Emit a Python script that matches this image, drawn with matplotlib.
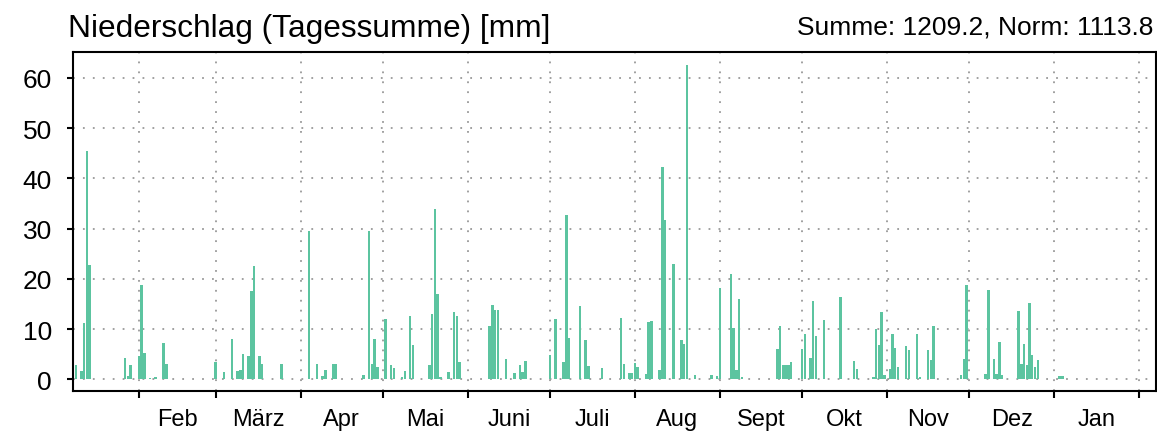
import matplotlib
matplotlib.use("Agg")
from matplotlib import pyplot as plt

# Tagesniederschlag: Tag (0 = 1. Jan) und Menge in mm
tage = [8, 10, 11, 12, 13, 26, 27, 28, 31, 32, 33, 35, 37, 40, 41,
        59, 62, 65, 67, 68, 69, 71, 72, 73, 75, 76, 83,
        93, 96, 98, 99, 102, 103, 113, 115, 116, 117, 118,
        121, 123, 124, 127, 128, 130, 131, 137, 138, 139, 140, 141, 144, 146, 147, 148,
        159, 160, 161, 162, 165, 168, 170, 171, 172,
        181, 183, 186, 187, 188, 192, 194, 195, 200, 207, 208, 210, 211,
        212, 213, 216, 217, 218, 221, 222, 223, 226, 229, 230, 231, 234, 240, 242,
        243, 247, 248, 249, 250, 251, 264, 265, 266, 267, 268, 269,
        273, 274, 276, 277, 278, 281, 287, 292, 293, 299, 300, 301, 302, 303,
        305, 306, 307, 308, 311, 312, 315, 316, 319, 320, 321, 331, 332, 333,
        340, 341, 343, 344, 345, 346, 352, 353, 354, 355, 356, 357, 358, 359,
        367, 368]
mm = [2.8, 1.6, 11.2, 45.4, 22.7, 4.2, 0.7, 2.9, 4.6, 18.7, 5.2, 0.3, 0.5, 7.3, 3.1,
      3.4, 1.5, 8.1, 1.7, 1.8, 5.0, 4.6, 17.5, 22.5, 4.6, 3.1, 3.1,
      29.5, 3.1, 0.6, 1.9, 3.0, 3.0, 0.9, 29.6, 3.1, 8.0, 2.5,
      12.1, 2.8, 2.3, 0.5, 1.6, 12.7, 6.9, 2.8, 13.1, 33.9, 17.0, 0.5, 1.5, 13.5, 12.6, 3.4,
      10.6, 14.7, 13.9, 13.9, 4.0, 1.3, 2.8, 1.5, 3.6,
      4.9, 12.1, 3.4, 32.8, 8.2, 14.6, 7.8, 2.6, 2.3, 12.2, 3.1, 1.2, 1.3,
      3.3, 2.5, 1.1, 11.4, 11.7, 1.9, 42.2, 31.7, 23.0, 7.8, 7.1, 62.6, 0.8, 0.8, 0.7,
      18.2, 21.0, 10.2, 1.8, 15.9, 0.5, 6.1, 10.6, 2.9, 2.8, 2.8, 3.4,
      6.1, 9.1, 4.2, 15.5, 8.6, 11.9, 16.3, 3.6, 2.1, 0.5, 10.1, 6.9, 13.5, 0.8,
      2.1, 9.1, 6.2, 2.5, 6.6, 5.8, 9.1, 0.5, 5.9, 3.8, 10.7, 0.8, 4.1, 18.7,
      1.1, 17.7, 4.0, 1.1, 7.4, 0.8, 13.7, 3.1, 7.1, 2.9, 15.2, 4.9, 2.5, 3.8,
      0.6, 0.6]

# Monatsanfaenge (Feb bis Feb des Folgejahres) und Monatsnamen
monatsanfang = [31, 59, 90, 120, 151, 181, 212, 243, 273, 304, 334, 365, 396]
monate = ['Feb', 'März', 'Apr', 'Mai', 'Juni', 'Juli', 'Aug', 'Sept', 'Okt', 'Nov', 'Dez', 'Jan']

titel = 'Niederschlag (Tagessumme) [mm]'
summe = 'Summe: 1209.2, Norm: 1113.8'

plt.rcParams['font.family'] = ['Liberation Sans', 'DejaVu Sans']

fig = plt.figure(figsize=(11.57, 4.39), dpi=100)
ax = fig.add_axes([0.063, 0.106, 0.936, 0.773])

ax.bar(tage, mm, width=0.9, color='#5cc4a0', zorder=2)

ax.set_xlim(6.9, 402.1)
ax.set_ylim(-2.4, 65.1)

ax.set_yticks(range(0, 61, 10))
ax.set_xticks(monatsanfang)
ax.set_xticklabels([])
mitten = [(monatsanfang[i] + monatsanfang[i + 1]) / 2 for i in range(len(monate))]
ax.set_xticks(mitten, minor=True)
ax.set_xticklabels(monate, minor=True)

ax.tick_params(axis='y', which='major', labelsize=19, length=4, width=1.5, pad=11)
ax.tick_params(axis='x', which='major', length=5, width=1.5)
ax.tick_params(axis='x', which='minor', length=0, labelsize=17, pad=12)

ax.grid(True, which='major', color='#999999', linestyle=(0, (1, 4.5)), linewidth=1.3, zorder=1)
for s in ax.spines.values():
    s.set_linewidth(1.5)

fig.text(0.059, 0.915, titel, fontsize=22.8, ha='left', va='baseline')
fig.text(0.997, 0.922, summe, fontsize=19, ha='right', va='baseline')

fig.savefig('out.png', dpi=100)
